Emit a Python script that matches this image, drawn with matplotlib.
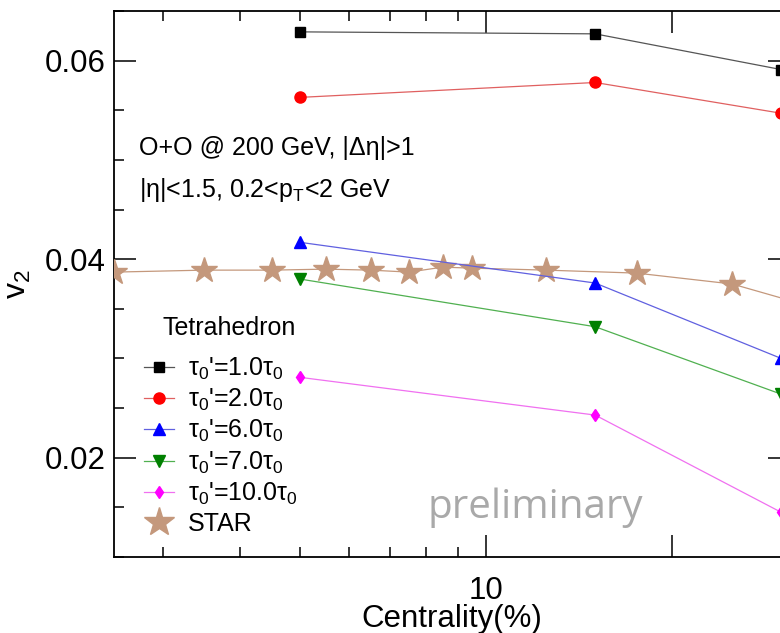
import numpy as np
import matplotlib.pyplot as plt
from matplotlib.ticker import FixedLocator, NullFormatter, FixedFormatter

plt.rcParams['font.family'] = ['Liberation Sans', 'DejaVu Sans']
plt.rcParams['mathtext.fontset'] = 'custom'
plt.rcParams['mathtext.rm'] = 'Liberation Sans'
plt.rcParams['mathtext.it'] = 'Liberation Sans:italic'

# model: tetrahedron O+O, different tau0'
cent_model = [5, 15, 30]
v2_tau1 = [0.0629, 0.0627, 0.0591]
v2_tau2 = [0.0563, 0.0578, 0.0547]
v2_tau6 = [0.0417, 0.0376, 0.0300]
v2_tau7 = [0.0380, 0.0332, 0.0264]
v2_tau10 = [0.0281, 0.0243, 0.0145]

# STAR data
cent_star = [2.5, 3.5, 4.5, 5.5, 6.5, 7.5, 8.5, 9.5, 12.5, 17.5, 25, 35]
v2_star = [0.0387, 0.0389, 0.0389, 0.0390, 0.0389, 0.0387, 0.0392, 0.0391,
           0.0389, 0.0386, 0.0375, 0.0349]

fig = plt.figure(figsize=(7.8, 6.33), dpi=100)
ax = fig.add_axes([0.146, 0.120, 1.013 - 0.146, 0.9826 - 0.120])

star_col = '#c4987c'
ax.plot(cent_star, v2_star, '-', color=star_col, lw=0.9, zorder=2)
ax.plot(cent_star, v2_star, '*', color=star_col, ms=19, mec=star_col, zorder=3,
        linestyle='none')

series = [
    (v2_tau1, 's', 'black', '#555555', 7.5, r"τ$_0$'=1.0τ$_0$"),
    (v2_tau2, 'o', 'red', '#e06060', 8, r"τ$_0$'=2.0τ$_0$"),
    (v2_tau6, '^', 'blue', '#6060e0', 8, r"τ$_0$'=6.0τ$_0$"),
    (v2_tau7, 'v', 'green', '#50b050', 8, r"τ$_0$'=7.0τ$_0$"),
    (v2_tau10, 'd', 'magenta', '#f070f0', 6.5, r"τ$_0$'=10.0τ$_0$"),
]
handles = []
for vals, mk, c, lc, ms, lab in series:
    ax.plot(cent_model, vals, '-', color=lc, lw=0.9, zorder=4)
    ax.plot(cent_model, vals, mk, color=c, ms=ms, zorder=5, linestyle='none')
    h, = ax.plot([], [], '-', marker=mk, color=lc, mfc=c, mec=c, ms=ms, lw=0.9, label=lab)
    handles.append(h)
hstar, = ax.plot([], [], '*', color=star_col, ms=22, linestyle='none', label='STAR')
handles.append(hstar)

ax.set_xscale('log')
ax.set_xlim(2.5, 31)
ax.set_ylim(0.01, 0.065)

ax.xaxis.set_major_locator(FixedLocator([10, 20]))
ax.xaxis.set_major_formatter(FixedFormatter(['10', '']))
ax.xaxis.set_minor_locator(FixedLocator([3, 4, 5, 6, 7, 8, 9, 30]))
ax.xaxis.set_minor_formatter(NullFormatter())
ax.yaxis.set_major_locator(FixedLocator([0.02, 0.04, 0.06]))
ax.yaxis.set_major_formatter(FixedFormatter(['0.02', '0.04', '0.06']))
ax.yaxis.set_minor_locator(FixedLocator(np.arange(0.01, 0.0651, 0.005)))

ax.tick_params(which='both', direction='in', top=True, right=True, labelsize=22.5, width=1.1)
ax.tick_params(which='major', length=16, pad=6)
ax.tick_params(axis='x', which='major', pad=14)
ax.tick_params(which='minor', length=7.5)
for s in ax.spines.values():
    s.set_linewidth(1.3)

ax.set_xlabel('Centrality(%)', fontsize=22.5, labelpad=-2)
ax.set_ylabel('v$_2$', fontsize=23, labelpad=8)

ax.text(0.037, 0.737, 'O+O @ 200 GeV, |Δη|>1', transform=ax.transAxes, fontsize=18)
ax.text(0.037, 0.66, '|η|<1.5, 0.2<p$_{\\rm T}$<2 GeV', transform=ax.transAxes, fontsize=18)

ax.text(12, 0.015, 'preliminary', fontsize=29, color='#a9a9a9', family='Open Sans',
        ha='center', va='center')

ax.text(0.0725, 0.419, 'Tetrahedron', transform=ax.transAxes, fontsize=18, va='center')
leg = ax.legend(handles=handles, loc='upper left',
                bbox_to_anchor=(0.03, 0.387), frameon=False, fontsize=18,
                handlelength=1.2, handletextpad=0.55, labelspacing=0.2,
                borderaxespad=0)

plt.savefig('out.png', dpi=100)
